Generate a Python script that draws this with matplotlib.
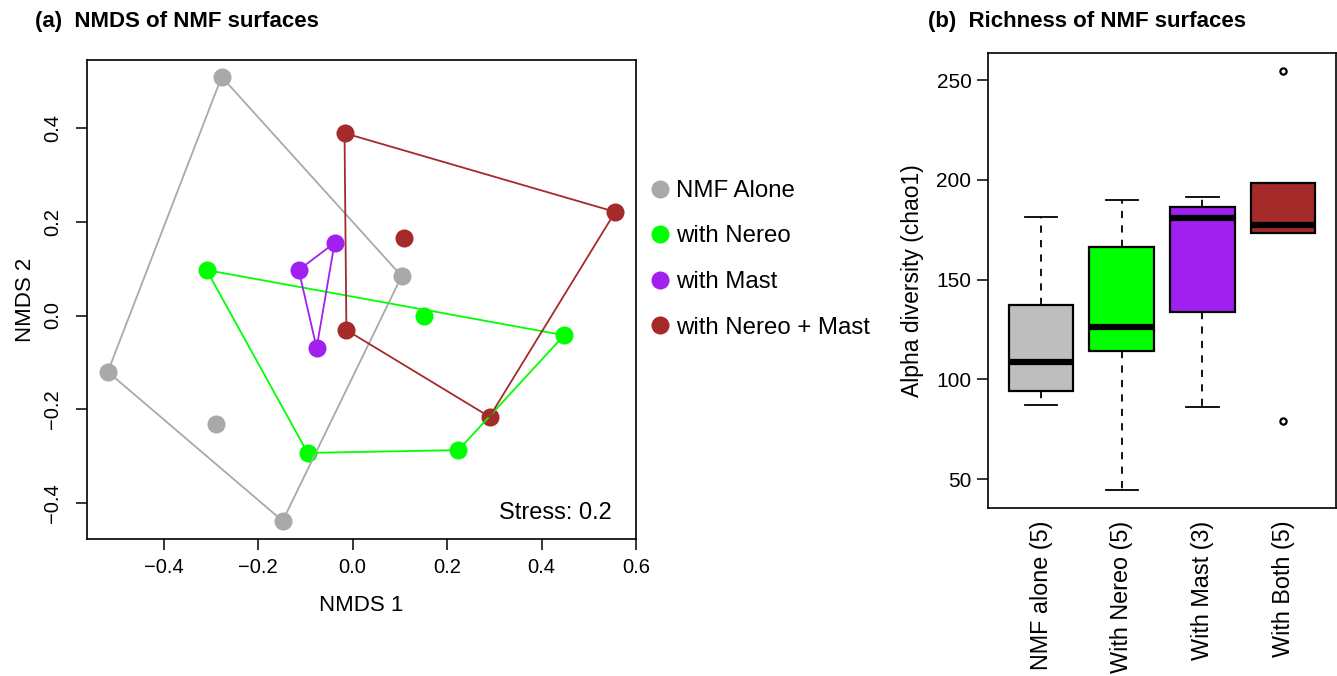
import numpy as np
import matplotlib
matplotlib.use("Agg")
import matplotlib.pyplot as plt
from matplotlib.lines import Line2D

plt.rcParams['font.family'] = ['Liberation Sans', 'DejaVu Sans']
plt.rcParams['axes.unicode_minus'] = True

# NMDS scores per treatment
groups = ['NMF Alone', 'with Nereo', 'with Mast', 'with Nereo + Mast']
colors = ['#A9A9A9', '#00FF00', '#A020F0', '#A52A2A']
nmds1 = [
    [-0.277, -0.518, -0.288, -0.148, 0.104],
    [-0.309, 0.152, 0.448, 0.224, -0.095],
    [-0.114, -0.038, -0.076],
    [-0.017, 0.556, 0.108, -0.013, 0.290],
]
nmds2 = [
    [0.509, -0.120, -0.231, -0.438, 0.084],
    [0.097, -0.001, -0.042, -0.287, -0.293],
    [0.097, 0.155, -0.069],
    [0.389, 0.221, 0.165, -0.031, -0.216],
]
stress = 0.2

# chao1 richness per treatment
box_labels = ['NMF alone (5)', 'With Nereo (5)', 'With Mast (3)', 'With Both (5)']
box_colors = ['#BEBEBE', '#00FF00', '#A020F0', '#A52A2A']
chao1 = [
    [87, 94, 108.5, 137, 181.5],
    [44.5, 114, 126, 166.5, 190],
    [86, 181, 191.5],
    [79, 173.5, 177.5, 198.5, 254.5],
]


def hull(xs, ys):
    # monotone chain convex hull, returns closed vertex list
    pts = sorted(set(zip(xs, ys)))
    if len(pts) < 3:
        return pts + pts[:1]

    def cross(o, a, b):
        return (a[0] - o[0]) * (b[1] - o[1]) - (a[1] - o[1]) * (b[0] - o[0])

    lower, upper = [], []
    for p in pts:
        while len(lower) >= 2 and cross(lower[-2], lower[-1], p) <= 0:
            lower.pop()
        lower.append(p)
    for p in reversed(pts):
        while len(upper) >= 2 and cross(upper[-2], upper[-1], p) <= 0:
            upper.pop()
        upper.append(p)
    h = lower[:-1] + upper[:-1]
    return h + h[:1]


fig = plt.figure(figsize=(13.37, 6.76), dpi=100)

# (a) NMDS
ax1 = fig.add_axes([0.0651, 0.2027, 0.4106, 0.7086])
for xs, ys, c, g in zip(nmds1, nmds2, colors, groups):
    ax1.plot(xs, ys, 'o', color=c, markersize=13, markeredgewidth=0, zorder=2)
    h = hull(xs, ys)
    ax1.plot([p[0] for p in h], [p[1] for p in h], '-', color=c, lw=1.3, zorder=3)

ax1.set_xlim(-0.562, 0.598)
ax1.set_ylim(-0.4765, 0.545)
ax1.set_xticks([-0.4, -0.2, 0.0, 0.2, 0.4, 0.6])
ax1.set_yticks([-0.4, -0.2, 0.0, 0.2, 0.4])
ax1.set_xticklabels(['\u22120.4', '\u22120.2', '0.0', '0.2', '0.4', '0.6'])
ax1.set_yticklabels(['\u22120.4', '\u22120.2', '0.0', '0.2', '0.4'],
                    rotation=90, va='center')
ax1.tick_params(labelsize=14.5, length=8, width=1.1, pad=6)
ax1.tick_params(axis='y', pad=10)
for s in ax1.spines.values():
    s.set_linewidth(1.2)
ax1.set_xlabel('NMDS 1', fontsize=16)
ax1.set_ylabel('NMDS 2', fontsize=16)
ax1.xaxis.set_label_coords(0.5, -0.117)
ax1.yaxis.set_label_coords(-0.093, 0.5)
ax1.text(0.956, 0.054, f'Stress: {stress}', transform=ax1.transAxes,
         ha='right', va='center', fontsize=17)

handles = [Line2D([], [], ls='none', marker='o', color=c, markersize=13,
                  markeredgewidth=0) for c in colors]
ax1.legend(handles, groups, loc='center left', bbox_to_anchor=(1.021, 0.584),
           frameon=False, fontsize=17.3, handlelength=1.0, handletextpad=0.2,
           labelspacing=0.98, borderpad=0, borderaxespad=0)

fig.text(35 / 1337, 1 - 21 / 676, '(a)  NMDS of NMF surfaces', fontsize=16,
         fontweight='bold', ha='left', va='center')

# (b) richness boxplot
ax2 = fig.add_axes([0.739, 0.2485, 0.2603, 0.673])
bp = ax2.boxplot(chao1, positions=[1, 2, 3, 4], widths=0.8, whis=1.5,
                 patch_artist=True, capwidths=0.4,
                 boxprops=dict(edgecolor='black', linewidth=1.6),
                 whiskerprops=dict(color='black', linewidth=1.3,
                                   linestyle=(0, (4, 4))),
                 capprops=dict(color='black', linewidth=1.3),
                 medianprops=dict(color='black', linewidth=4.5,
                                  solid_capstyle='butt'),
                 flierprops=dict(marker='o', markerfacecolor='none',
                                 markeredgecolor='black', markersize=4.5,
                                 markeredgewidth=1.6))
for patch, c in zip(bp['boxes'], box_colors):
    patch.set_facecolor(c)

ax2.set_xlim(0.343, 4.657)
ax2.set_ylim(35.5, 263.5)
ax2.set_yticks([50, 100, 150, 200, 250])
ax2.set_xticks([1, 2, 3, 4])
ax2.set_xticklabels(box_labels, rotation=90, va='top', ha='center')
ax2.tick_params(axis='x', length=0, pad=9, labelsize=16.8)
ax2.tick_params(axis='y', length=8, width=1.1, pad=4, labelsize=15)
for s in ax2.spines.values():
    s.set_linewidth(1.2)
ax2.set_ylabel('Alpha diversity (chao1)', fontsize=16.5)
ax2.yaxis.set_label_coords(-0.185, 0.5)

fig.text(928 / 1337, 1 - 21 / 676, '(b)  Richness of NMF surfaces', fontsize=16,
         fontweight='bold', ha='left', va='center')

fig.savefig('out.png', dpi=100)
